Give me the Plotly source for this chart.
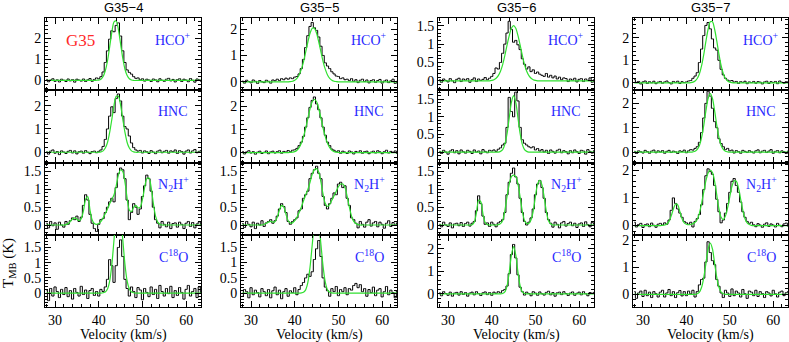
import plotly.graph_objects as go

# channel velocities (km/s), 0.5 km/s channels
velocity = [
    28.0, 28.5, 29.0, 29.5, 30.0, 30.5, 31.0, 31.5, 32.0, 32.5, 33.0, 33.5,
    34.0, 34.5, 35.0, 35.5, 36.0, 36.5, 37.0, 37.5, 38.0, 38.5, 39.0, 39.5,
    40.0, 40.5, 41.0, 41.5, 42.0, 42.5, 43.0, 43.5, 44.0, 44.5, 45.0, 45.5,
    46.0, 46.5, 47.0, 47.5, 48.0, 48.5, 49.0, 49.5, 50.0, 50.5, 51.0, 51.5,
    52.0, 52.5, 53.0, 53.5, 54.0, 54.5, 55.0, 55.5, 56.0, 56.5, 57.0, 57.5,
    58.0, 58.5, 59.0, 59.5, 60.0, 60.5, 61.0, 61.5, 62.0, 62.5, 63.0, 63.5,
]

sources = ['G35−4', 'G35−5', 'G35−6', 'G35−7']
molecules = ['HCO<sup>+</sup>', 'HNC', 'N<sub>2</sub>H<sup>+</sup>', 'C<sup>18</sup>O']

# ---------------- G35-4 ----------------
g4_hco = [
    0.05, -0.06, 0.02, 0.08, -0.04, 0.03, -0.07, 0.06, 0.01, -0.05, 0.07, -0.02,
    0.04, -0.08, 0.06, 0.02, -0.03, 0.07, -0.05, 0.03, 0.09, -0.04, 0.05, 0.12,
    0.08, 0.18, 0.4, 0.85, 1.4, 1.95, 2.35, 2.3, 2.6, 2.72, 2.1, 1.4,
    0.85, 0.5, 0.38, 0.3, 0.18, 0.1, 0.12, 0.03, 0.08, -0.03, 0.06, 0.02,
    -0.05, 0.07, 0.03, -0.06, 0.08, 0.01, -0.04, 0.06, 0.1, -0.02, 0.05, -0.07,
    0.04, 0.08, -0.05, 0.06, 0.02, -0.06, 0.09, 0.01, -0.08, 0.07, 0.03, -0.04,
]
g4_hco_fit = [
    0, 0, 0, 0, 0, 0, 0, 0, 0, 0, 0, 0,
    0, 0, 0, 0, 0, 0, 0, 0, 0, 0, 0, 0.01,
    0.02, 0.06, 0.19, 0.46, 0.92, 1.59, 2.28, 2.77, 2.81, 2.40, 1.73, 1.05,
    0.53, 0.23, 0.08, 0.02, 0, 0, 0, 0, 0, 0, 0, 0,
    0, 0, 0, 0, 0, 0, 0, 0, 0, 0, 0, 0,
    0, 0, 0, 0, 0, 0, 0, 0, 0, 0, 0, 0,
]
g4_hnc = [
    0.02, -0.08, 0.05, 0.1, -0.04, 0.03, -0.1, 0.06, 0.01, -0.05, 0.04, 0.08,
    -0.03, 0.06, -0.07, 0.02, 0.05, -0.04, 0.07, 0.0, -0.06, 0.03, 0.05, -0.02,
    0.04, 0.1, 0.25, 0.55, 1.0, 1.55, 1.95, 1.7, 2.3, 2.5, 2.2, 1.55,
    1.1, 1.0, 0.7, 0.4, 0.2, 0.1, 0.05, 0.08, -0.03, 0.06, 0.02, -0.05,
    0.07, 0.01, -0.06, 0.05, 0.09, -0.02, 0.04, 0.08, -0.04, 0.06, 0.02, 0.1,
    -0.05, 0.07, 0.03, -0.08, 0.05, 0.1, -0.03, 0.06, 0.12, -0.02, 0.04, 0.08,
]
g4_hnc_fit = [
    0, 0, 0, 0, 0, 0, 0, 0, 0, 0, 0, 0,
    0, 0, 0, 0, 0, 0, 0, 0, 0, 0, 0, 0,
    0, 0.02, 0.06, 0.18, 0.42, 0.85, 1.42, 2.02, 2.40, 2.40, 2.02, 1.42,
    0.85, 0.42, 0.18, 0.06, 0.02, 0, 0, 0, 0, 0, 0, 0,
    0, 0, 0, 0, 0, 0, 0, 0, 0, 0, 0, 0,
    0, 0, 0, 0, 0, 0, 0, 0, 0, 0, 0, 0,
]
g4_n2h = [
    0.05, -0.08, 0.1, -0.02, 0.06, -0.12, 0.08, 0.0, -0.06, 0.1, 0.02, 0.12,
    0.2, 0.15, 0.25, 0.1, 0.22, 0.55, 0.85, 0.7, 0.3, 0.05, -0.1, -0.18,
    0.02, 0.15, 0.18, 0.35, 0.5, 0.65, 0.75, 0.65, 1.05, 1.45, 1.6, 1.55,
    1.3, 0.7, 0.15, 0.35, 0.6, 0.5, 0.3, 0.45, 0.8, 1.1, 1.4, 1.3,
    0.95, 0.5, 0.15, 0.05, -0.08, 0.1, 0.02, -0.05, 0.08, -0.1, 0.04, 0.06,
    -0.06, 0.08, 0.02, -0.1, 0.05, 0.1, -0.04, 0.07, -0.08, 0.03, 0.09, -0.02,
]
g4_n2h_fit = [
    0, 0, 0, 0, 0, 0, 0, 0, 0, 0.01, 0.04, 0.1,
    0.17, 0.2, 0.16, 0.12, 0.18, 0.4, 0.72, 0.8, 0.42, 0.14, 0.04, 0.02,
    0.04, 0.1, 0.2, 0.32, 0.45, 0.6, 0.72, 0.85, 1.1, 1.4, 1.55, 1.5,
    1.2, 0.75, 0.42, 0.38, 0.5, 0.55, 0.48, 0.5, 0.72, 1.05, 1.3, 1.32,
    1.05, 0.6, 0.25, 0.08, 0.02, 0, 0, 0, 0, 0, 0, 0,
    0, 0, 0, 0, 0, 0, 0, 0, 0, 0, 0, 0,
]
g4_c18o = [
    0.1, -0.25, 0.15, -0.1, 0.2, 0.05, -0.15, 0.12, -0.05, 0.18, -0.12, 0.08,
    -0.2, 0.15, 0.02, -0.1, 0.22, -0.05, 0.1, -0.18, 0.08, 0.15, -0.08, 0.05,
    -0.1, 0.12, 0.05, 0.2, 0.45, 1.1, 0.9, 0.35, 0.9, 1.5, 1.75, 1.2,
    0.45, 0.15, -0.1, 0.2, 0.05, -0.15, 0.18, 0.1, -0.22, 0.15, 0.02, -0.12,
    0.2, -0.05, 0.12, -0.18, 0.25, 0.05, -0.1, 0.15, -0.02, 0.22, -0.15, 0.08,
    -0.08, 0.18, 0.02, -0.2, 0.12, 0.25, -0.1, 0.05, 0.15, -0.15, 0.2, 0.0,
]
g4_c18o_fit = [
    0, 0, 0, 0, 0, 0, 0, 0, 0, 0, 0, 0,
    0, 0, 0, 0, 0, 0, 0, 0, 0, 0, 0, 0,
    0, 0, 0.01, 0.03, 0.13, 0.39, 0.94, 1.76, 2.56, 2.9, 2.56, 1.76,
    0.94, 0.39, 0.13, 0.03, 0.01, 0, 0, 0, 0, 0, 0, 0,
    0, 0, 0, 0, 0, 0, 0, 0, 0, 0, 0, 0,
    0, 0, 0, 0, 0, 0, 0, 0, 0, 0, 0, 0,
]

# ---------------- G35-5 ----------------
g5_hco = [
    0.03, -0.05, 0.06, 0.01, -0.04, 0.07, 0.02, -0.06, 0.05, 0.0, -0.03, 0.06,
    0.02, -0.05, 0.07, 0.04, 0.1, 0.05, 0.12, 0.08, 0.14, 0.1, 0.15, 0.12,
    0.18, 0.2, 0.3, 0.5, 0.85, 1.3, 1.75, 2.1, 2.25, 2.05, 1.95, 1.7,
    1.35, 1.0, 0.72, 0.6, 0.5, 0.38, 0.3, 0.22, 0.2, 0.12, 0.15, 0.08,
    0.1, 0.05, 0.12, 0.02, 0.08, -0.03, 0.06, 0.1, 0.01, 0.07, -0.04, 0.05,
    0.08, -0.02, 0.05, 0.09, -0.05, 0.03, 0.07, -0.03, 0.04, 0.1, -0.06, 0.02,
]
g5_hco_fit = [
    0, 0, 0, 0, 0, 0, 0, 0, 0, 0, 0, 0,
    0, 0, 0, 0, 0, 0, 0, 0, 0, 0, 0.01, 0.02,
    0.06, 0.13, 0.26, 0.47, 0.76, 1.13, 1.51, 1.84, 2.03, 2.03, 1.84, 1.51,
    1.13, 0.76, 0.47, 0.26, 0.13, 0.06, 0.02, 0.01, 0, 0, 0, 0,
    0, 0, 0, 0, 0, 0, 0, 0, 0, 0, 0, 0,
    0, 0, 0, 0, 0, 0, 0, 0, 0, 0, 0, 0,
]
g5_hnc = [
    0.05, -0.06, 0.03, 0.08, -0.02, 0.04, -0.07, 0.02, 0.06, -0.04, 0.01, 0.07,
    -0.05, 0.03, 0.06, -0.02, 0.04, 0.08, -0.03, 0.05, 0.02, 0.09, 0.04, 0.1,
    0.12, 0.18, 0.3, 0.45, 0.7, 1.1, 1.5, 1.95, 2.25, 2.4, 2.1, 1.85,
    1.5, 1.1, 0.75, 0.45, 0.3, 0.15, 0.1, 0.04, 0.08, -0.03, 0.06, 0.02,
    -0.04, 0.07, 0.03, -0.06, 0.05, 0.01, 0.08, -0.03, 0.04, 0.06, -0.05, 0.02,
    0.06, -0.02, 0.08, 0.03, -0.05, 0.04, 0.1, -0.02, 0.05, 0.01, 0.07, -0.04,
]
g5_hnc_fit = [
    0, 0, 0, 0, 0, 0, 0, 0, 0, 0, 0, 0,
    0, 0, 0, 0, 0, 0, 0, 0, 0, 0, 0.01, 0.02,
    0.04, 0.10, 0.21, 0.40, 0.68, 1.05, 1.48, 1.89, 2.19, 2.30, 2.19, 1.89,
    1.48, 1.05, 0.68, 0.40, 0.21, 0.10, 0.04, 0.02, 0.01, 0, 0, 0,
    0, 0, 0, 0, 0, 0, 0, 0, 0, 0, 0, 0,
    0, 0, 0, 0, 0, 0, 0, 0, 0, 0, 0, 0,
]
g5_n2h = [
    0.04, -0.07, 0.1, 0.02, -0.05, 0.08, -0.1, 0.05, 0.0, 0.12, -0.04, 0.06,
    0.1, 0.15, 0.05, 0.12, 0.25, 0.45, 0.6, 0.52, 0.35, 0.1, 0.02, 0.1,
    0.15, 0.2, 0.4, 0.45, 0.75, 0.85, 0.95, 1.3, 1.45, 1.55, 1.65, 1.45,
    1.3, 0.8, 0.55, 0.45, 0.6, 0.75, 0.9, 0.85, 1.15, 1.2, 1.05, 1.1,
    0.75, 0.55, 0.2, 0.15, 0.05, -0.08, 0.1, 0.02, -0.06, 0.08, 0.15, -0.03,
    0.06, 0.1, -0.05, 0.08, 0.02, -0.09, 0.05, 0.12, -0.04, 0.07, 0.0, 0.06,
]
g5_n2h_fit = [
    0, 0, 0, 0, 0, 0, 0, 0, 0, 0, 0.02, 0.05,
    0.08, 0.1, 0.08, 0.1, 0.22, 0.42, 0.55, 0.5, 0.3, 0.12, 0.06, 0.06,
    0.12, 0.22, 0.35, 0.5, 0.68, 0.85, 1.0, 1.2, 1.42, 1.55, 1.58, 1.48,
    1.2, 0.85, 0.6, 0.52, 0.58, 0.7, 0.82, 0.95, 1.08, 1.15, 1.15, 1.05,
    0.8, 0.5, 0.25, 0.1, 0.04, 0.01, 0, 0, 0, 0, 0, 0,
    0, 0, 0, 0, 0, 0, 0, 0, 0, 0, 0, 0,
]
g5_c18o = [
    -0.1, 0.12, 0.05, -0.15, 0.18, -0.05, 0.1, 0.02, -0.12, 0.15, 0.05, -0.08,
    0.12, -0.15, 0.08, 0.2, -0.05, 0.1, -0.18, 0.05, 0.15, -0.1, 0.08, 0.02,
    0.18, -0.05, 0.12, 0.25, 0.35, 0.5, 0.62, 0.55, 0.7, 1.1, 1.45, 1.72,
    1.2, 0.5, 0.2, 0.08, -0.1, 0.15, 0.05, 0.22, -0.08, 0.12, 0.05, 0.18,
    -0.05, 0.15, 0.1, 0.25, 0.32, 0.18, 0.28, 0.05, 0.15, -0.1, 0.12, 0.02,
    0.2, -0.08, 0.1, 0.15, -0.12, 0.05, 0.22, -0.05, 0.1, 0.02, -0.15, 0.08,
]
g5_c18o_fit = [
    0, 0, 0, 0, 0, 0, 0, 0, 0, 0, 0, 0,
    0, 0, 0, 0, 0, 0, 0, 0, 0, 0, 0, 0,
    0, 0, 0, 0.01, 0.03, 0.11, 0.35, 0.85, 1.58, 2.29, 2.6, 2.29,
    1.58, 0.85, 0.35, 0.11, 0.03, 0.01, 0, 0, 0, 0, 0, 0,
    0, 0, 0, 0, 0, 0, 0, 0, 0, 0, 0, 0,
    0, 0, 0, 0, 0, 0, 0, 0, 0, 0, 0, 0,
]

# ---------------- G35-6 ----------------
g6_hco = [
    0.03, -0.04, 0.05, 0.01, -0.03, 0.06, 0.0, -0.05, 0.04, 0.07, -0.02, 0.05,
    0.02, 0.06, -0.04, 0.03, 0.08, -0.02, 0.05, 0.01, 0.04, 0.09, 0.03, 0.07,
    0.12, 0.2, 0.35, 0.32, 0.5, 0.75, 1.0, 1.3, 1.62, 1.4, 1.05, 1.1,
    0.98, 0.85, 0.6, 0.45, 0.32, 0.38, 0.25, 0.3, 0.2, 0.24, 0.18, 0.15,
    0.12, 0.2, 0.1, 0.15, 0.08, 0.13, 0.05, 0.1, 0.03, 0.08, 0.06, -0.02,
    0.05, 0.02, 0.07, -0.03, 0.04, 0.06, -0.02, 0.05, 0.01, 0.08, -0.04, 0.03,
]
g6_hco_fit = [
    0, 0, 0, 0, 0, 0, 0, 0, 0, 0, 0, 0,
    0, 0, 0, 0, 0, 0, 0, 0, 0, 0, 0, 0,
    0.01, 0.03, 0.07, 0.14, 0.26, 0.44, 0.69, 0.97, 1.23, 1.43, 1.5, 1.43,
    1.23, 0.97, 0.69, 0.44, 0.26, 0.14, 0.07, 0.03, 0.01, 0, 0, 0,
    0, 0, 0, 0, 0, 0, 0, 0, 0, 0, 0, 0,
    0, 0, 0, 0, 0, 0, 0, 0, 0, 0, 0, 0,
]
g6_hnc = [
    0.02, -0.04, 0.05, 0.0, -0.06, 0.03, 0.07, -0.02, 0.04, -0.05, 0.06, 0.01,
    -0.03, 0.05, 0.02, -0.04, 0.06, 0.0, 0.03, -0.05, 0.07, 0.02, -0.02, 0.05,
    0.03, 0.06, 0.02, 0.08, 0.12, 0.2, 0.25, 0.7, 1.55, 1.15, 1.0, 1.7,
    1.45, 0.7, 0.35, 0.25, 0.2, 0.15, 0.12, 0.15, 0.06, 0.1, 0.03, 0.07,
    0.0, 0.05, -0.04, 0.06, 0.02, -0.03, 0.05, 0.08, -0.02, 0.04, 0.01, -0.05,
    0.04, -0.02, 0.06, 0.01, -0.04, 0.05, 0.03, -0.06, 0.07, 0.02, -0.03, 0.04,
]
g6_hnc_fit = [
    0, 0, 0, 0, 0, 0, 0, 0, 0, 0, 0, 0,
    0, 0, 0, 0, 0, 0, 0, 0, 0, 0, 0, 0,
    0, 0, 0, 0, 0.02, 0.07, 0.22, 0.52, 0.97, 1.41, 1.6, 1.41,
    0.97, 0.52, 0.22, 0.07, 0.02, 0, 0, 0, 0, 0, 0, 0,
    0, 0, 0, 0, 0, 0, 0, 0, 0, 0, 0, 0,
    0, 0, 0, 0, 0, 0, 0, 0, 0, 0, 0, 0,
]
g6_n2h = [
    0.02, -0.05, 0.08, 0.0, -0.04, 0.06, -0.08, 0.03, 0.05, -0.02, 0.07, -0.04,
    0.04, 0.08, -0.03, 0.05, 0.1, 0.4, 0.82, 0.6, 0.25, 0.02, 0.06, -0.04,
    0.08, 0.02, -0.05, 0.06, 0.1, 0.15, 0.35, 0.85, 1.2, 1.45, 1.6, 1.35,
    1.15, 0.75, 0.35, 0.1, 0.0, 0.08, 0.2, 0.45, 0.85, 1.15, 1.25, 1.05,
    0.75, 0.35, 0.15, 0.05, -0.06, 0.08, 0.02, -0.08, 0.06, 0.1, -0.03, 0.04,
    0.08, -0.02, 0.05, -0.07, 0.03, 0.06, -0.04, 0.09, 0.01, -0.05, 0.07, 0.02,
]
g6_n2h_fit = [
    0, 0, 0, 0, 0, 0, 0, 0, 0, 0, 0, 0,
    0, 0, 0, 0.01, 0.08, 0.35, 0.7, 0.65, 0.3, 0.07, 0.01, 0,
    0, 0, 0, 0.01, 0.04, 0.13, 0.4, 0.8, 1.15, 1.36, 1.4, 1.36,
    1.15, 0.78, 0.38, 0.13, 0.04, 0.05, 0.15, 0.4, 0.8, 1.15, 1.25, 1.12,
    0.78, 0.38, 0.12, 0.03, 0, 0, 0, 0, 0, 0, 0, 0,
    0, 0, 0, 0, 0, 0, 0, 0, 0, 0, 0, 0,
]
g6_c18o = [
    0.05, -0.08, 0.1, 0.02, -0.06, 0.08, -0.1, 0.04, 0.07, -0.05, 0.1, -0.02,
    0.06, -0.1, 0.04, 0.08, -0.04, 0.1, 0.02, -0.07, 0.05, 0.09, -0.03, 0.06,
    -0.06, 0.08, 0.03, 0.1, 0.05, 0.15, 0.2, 0.35, 0.9, 1.75, 2.2, 1.6,
    0.85, 0.3, 0.1, -0.05, 0.08, 0.02, -0.08, 0.1, 0.04, -0.06, 0.09, 0.01,
    -0.05, 0.07, 0.12, -0.04, 0.06, -0.1, 0.05, 0.08, -0.03, 0.1, 0.02, -0.07,
    0.04, 0.09, -0.06, 0.03, 0.08, -0.04, 0.1, 0.01, -0.08, 0.06, 0.03, 0.07,
]
g6_c18o_fit = [
    0, 0, 0, 0, 0, 0, 0, 0, 0, 0, 0, 0,
    0, 0, 0, 0, 0, 0, 0, 0, 0, 0, 0, 0,
    0, 0, 0, 0, 0, 0.02, 0.09, 0.36, 0.96, 1.73, 2.1, 1.73,
    0.96, 0.36, 0.09, 0.02, 0, 0, 0, 0, 0, 0, 0, 0,
    0, 0, 0, 0, 0, 0, 0, 0, 0, 0, 0, 0,
    0, 0, 0, 0, 0, 0, 0, 0, 0, 0, 0, 0,
]

# ---------------- G35-7 ----------------
g7_hco = [
    0.15, 0.02, 0.06, -0.05, 0.04, 0.08, -0.03, 0.05, 0.0, 0.07, -0.04, 0.03,
    0.06, -0.02, 0.04, 0.08, 0.01, -0.05, 0.06, 0.02, 0.07, -0.03, 0.05, 0.01,
    0.04, 0.08, 0.1, 0.2, 0.3, 0.45, 0.9, 1.5, 2.1, 2.55, 2.68, 2.4,
    1.95, 1.55, 1.45, 1.0, 0.6, 0.35, 0.2, 0.12, 0.08, 0.1, 0.03, 0.06,
    -0.03, 0.05, 0.02, 0.07, -0.04, 0.04, 0.01, 0.06, -0.02, 0.05, 0.03, -0.05,
    0.04, 0.07, -0.03, 0.05, 0.01, 0.06, -0.04, 0.08, 0.02, -0.02, 0.05, 0.03,
]
g7_hco_fit = [
    0, 0, 0, 0, 0, 0, 0, 0, 0, 0, 0, 0,
    0, 0, 0, 0, 0, 0, 0, 0, 0, 0, 0, 0,
    0, 0, 0.01, 0.03, 0.08, 0.19, 0.40, 0.76, 1.26, 1.85, 2.38, 2.71,
    2.71, 2.38, 1.85, 1.26, 0.76, 0.40, 0.19, 0.08, 0.03, 0.01, 0, 0,
    0, 0, 0, 0, 0, 0, 0, 0, 0, 0, 0, 0,
    0, 0, 0, 0, 0, 0, 0, 0, 0, 0, 0, 0,
]
g7_hnc = [
    0.03, -0.06, 0.05, 0.01, -0.04, 0.07, 0.02, -0.05, 0.04, 0.08, -0.03, 0.05,
    0.0, 0.06, -0.05, 0.03, 0.07, -0.02, 0.04, 0.01, -0.06, 0.05, 0.02, 0.08,
    -0.03, 0.05, 0.1, 0.08, 0.15, 0.22, 0.4, 0.8, 1.4, 2.0, 2.5, 2.3,
    1.8, 1.25, 1.0, 0.55, 0.35, 0.22, 0.1, 0.15, 0.05, 0.08, -0.04, 0.06,
    0.02, -0.05, 0.07, 0.03, -0.02, 0.06, 0.01, -0.04, 0.05, 0.09, -0.03, 0.04,
    0.07, -0.02, 0.04, 0.1, -0.05, 0.03, 0.06, -0.03, 0.05, 0.01, -0.06, 0.04,
]
g7_hnc_fit = [
    0, 0, 0, 0, 0, 0, 0, 0, 0, 0, 0, 0,
    0, 0, 0, 0, 0, 0, 0, 0, 0, 0, 0, 0,
    0, 0, 0, 0.01, 0.03, 0.11, 0.27, 0.60, 1.10, 1.70, 2.20, 2.40,
    2.20, 1.70, 1.10, 0.60, 0.27, 0.11, 0.03, 0.01, 0, 0, 0, 0,
    0, 0, 0, 0, 0, 0, 0, 0, 0, 0, 0, 0,
    0, 0, 0, 0, 0, 0, 0, 0, 0, 0, 0, 0,
]
g7_n2h = [
    0.12, -0.05, 0.04, 0.08, -0.07, 0.03, 0.06, -0.04, 0.09, 0.01, -0.06, 0.05,
    0.08, 0.02, 0.1, 0.05, 0.2, 0.55, 1.0, 0.8, 0.6, 0.45, 0.3, 0.15,
    0.1, 0.05, 0.12, -0.05, 0.15, 0.25, 0.4, 0.75, 1.3, 1.8, 2.05, 1.95,
    1.85, 1.45, 0.95, 0.5, 0.1, 0.2, 0.45, 0.8, 1.2, 1.6, 1.7, 1.45,
    1.2, 0.85, 0.5, 0.3, 0.15, 0.08, 0.12, 0.03, -0.04, 0.07, 0.02, -0.06,
    0.05, 0.1, -0.03, 0.06, 0.02, -0.05, 0.08, 0.01, -0.04, 0.06, 0.09, -0.02,
]
g7_n2h_fit = [
    0, 0, 0, 0, 0, 0, 0, 0, 0, 0, 0, 0,
    0, 0.01, 0.02, 0.06, 0.15, 0.35, 0.6, 0.78, 0.75, 0.5, 0.25, 0.1,
    0.05, 0.03, 0.04, 0.07, 0.12, 0.22, 0.45, 0.8, 1.22, 1.62, 1.9, 2.0,
    1.92, 1.6, 1.1, 0.6, 0.3, 0.22, 0.35, 0.65, 1.05, 1.42, 1.62, 1.6,
    1.35, 0.95, 0.55, 0.25, 0.1, 0.04, 0.01, 0, 0, 0, 0, 0,
    0, 0, 0, 0, 0, 0, 0, 0, 0, 0, 0, 0,
]
g7_c18o = [
    0.1, -0.15, 0.05, 0.12, -0.08, 0.15, -0.05, 0.08, -0.12, 0.1, 0.02, -0.1,
    0.08, 0.15, -0.1, 0.05, 0.18, -0.05, 0.1, -0.12, 0.06, 0.14, -0.06, 0.1,
    -0.05, 0.12, 0.02, 0.15, -0.1, 0.1, 0.35, 0.55, 0.6, 1.2, 1.95, 1.55,
    1.25, 1.1, 0.55, 0.3, 0.05, -0.12, 0.15, 0.05, -0.08, 0.2, -0.05, 0.12,
    0.05, -0.1, 0.18, 0.02, -0.15, 0.12, 0.08, -0.05, 0.15, -0.08, 0.1, 0.03,
    -0.12, 0.1, 0.05, -0.06, 0.15, 0.02, -0.1, 0.08, 0.12, -0.05, 0.06, 0.1,
]
g7_c18o_fit = [
    0, 0, 0, 0, 0, 0, 0, 0, 0, 0, 0, 0,
    0, 0, 0, 0, 0, 0, 0, 0, 0, 0, 0, 0,
    0, 0, 0, 0, 0, 0.02, 0.08, 0.26, 0.62, 1.15, 1.68, 1.9,
    1.68, 1.15, 0.62, 0.26, 0.08, 0.02, 0, 0, 0, 0, 0, 0,
    0, 0, 0, 0, 0, 0, 0, 0, 0, 0, 0, 0,
    0, 0, 0, 0, 0, 0, 0, 0, 0, 0, 0, 0,
]

# rows = molecules, columns = sources
spectra = [
    [g4_hco, g5_hco, g6_hco, g7_hco],
    [g4_hnc, g5_hnc, g6_hnc, g7_hnc],
    [g4_n2h, g5_n2h, g6_n2h, g7_n2h],
    [g4_c18o, g5_c18o, g6_c18o, g7_c18o],
]
fits = [
    [g4_hco_fit, g5_hco_fit, g6_hco_fit, g7_hco_fit],
    [g4_hnc_fit, g5_hnc_fit, g6_hnc_fit, g7_hnc_fit],
    [g4_n2h_fit, g5_n2h_fit, g6_n2h_fit, g7_n2h_fit],
    [g4_c18o_fit, g5_c18o_fit, g6_c18o_fit, g7_c18o_fit],
]

# layout in window pixels
W, H = 789, 342
col_px = [(45, 201), (241, 397), (438, 594), (633, 788)]
row_px = [(18, 90), (90, 163), (163, 235), (235, 307)]
y_ranges = [
    [[-0.45, 2.95], [-0.31, 2.42], [-0.25, 1.71], [-0.32, 2.88]],
    [[-0.46, 2.67], [-0.45, 2.70], [-0.31, 1.76], [-0.45, 2.55]],
    [[-0.28, 1.74], [-0.28, 1.74], [-0.28, 1.74], [-0.34, 2.26]],
    [[-0.46, 1.91], [-0.45, 1.90], [-0.58, 2.62], [-0.47, 2.20]],
]
y_dticks = [
    [1, 1, 0.5, 1],
    [1, 1, 0.5, 1],
    [0.5, 0.5, 0.5, 1],
    [0.5, 0.5, 1, 1],
]


def px(x):
    return x / W


def py(y):
    return 1 - y / H


serif = 'Liberation Serif'
fig = go.Figure()
layout = {}
annotations = []


def note(x, y, text, font, **kw):
    annotations.append(dict(
        x=px(x), y=py(y), xref='paper', yref='paper', text=text,
        showarrow=False, xanchor='center', yanchor='middle', font=font, **kw
    ))


for r in range(4):
    for c in range(4):
        n = r * 4 + c + 1
        xa = 'x' if n == 1 else f'x{n}'
        ya = 'y' if n == 1 else f'y{n}'
        fig.add_trace(go.Scatter(
            x=velocity, y=spectra[r][c], xaxis=xa, yaxis=ya,
            mode='lines', line=dict(color='black', width=1, shape='hvh'),
            showlegend=False, hoverinfo='skip'
        ))
        fig.add_trace(go.Scatter(
            x=velocity, y=fits[r][c], xaxis=xa, yaxis=ya,
            mode='lines', line=dict(color='#30e030', width=1.2, shape='spline', smoothing=0.8),
            showlegend=False, hoverinfo='skip'
        ))
        x0, x1 = col_px[c]
        y0, y1 = row_px[r]
        dt = y_dticks[r][c]
        layout['xaxis' if n == 1 else f'xaxis{n}'] = dict(
            domain=[px(x0), px(x1)], anchor=ya, range=[27.7, 63.4],
            tick0=0, dtick=10, ticks='inside', ticklen=6, tickwidth=1,
            tickcolor='black', mirror='allticks', showline=True,
            linecolor='black', linewidth=1, showgrid=False, zeroline=False,
            showticklabels=(r == 3), automargin=False,
            tickfont=dict(family=serif, size=14, color='black'),
            minor=dict(dtick=2, ticks='inside', ticklen=3, tickcolor='black'),
        )
        layout['yaxis' if n == 1 else f'yaxis{n}'] = dict(
            domain=[py(y1), py(y0)], anchor=xa, range=y_ranges[r][c],
            tick0=0, dtick=dt, ticks='inside', ticklen=6, tickwidth=1,
            tickcolor='black', mirror='allticks', showline=True,
            linecolor='black', linewidth=1, showgrid=False, zeroline=False,
            automargin=False,
            tickfont=dict(family=serif, size=14, color='black'),
            minor=dict(dtick=dt / 5, ticks='inside', ticklen=3, tickcolor='black'),
        )
        note(x0 + 128, y0 + 21, molecules[r],
             dict(family=serif, size=14, color='#2a2aff'))

for c in range(4):
    x0, x1 = col_px[c]
    note((x0 + x1) / 2, 7, sources[c],
         dict(family='Liberation Sans', size=13, color='black'))
    note((x0 + x1) / 2, 335, 'Velocity (km/s)',
         dict(family=serif, size=14, color='black'))

note(80, 40, 'G35', dict(family=serif, size=17, color='#ff2a2a'))
note(9, 263, 'T<sub>MB</sub> (K)', dict(family=serif, size=15, color='black'),
     textangle=-90)

fig.update_layout(
    template='none',
    width=W, height=H, margin=dict(l=0, r=0, t=0, b=0),
    paper_bgcolor='white', plot_bgcolor='white',
    annotations=annotations, **layout
)
# drop the default page margin so the figure sits at the window origin
fig.write_html("out.html", config={'displayModeBar': False},
               post_script="document.body.style.margin = '0';")
